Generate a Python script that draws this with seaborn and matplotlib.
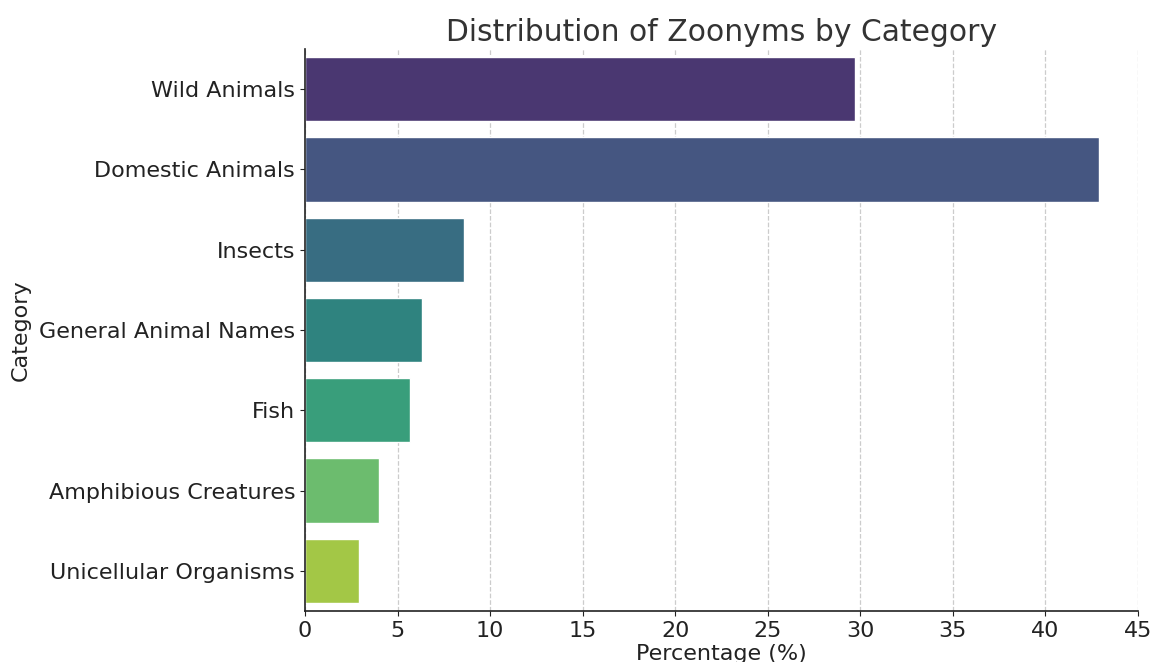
import matplotlib
matplotlib.use("Agg")
import matplotlib.pyplot as plt
import seaborn as sns
import pandas as pd

categories = ["Wild Animals", "Domestic Animals", "Insects", "General Animal Names",
              "Fish", "Amphibious Creatures", "Unicellular Organisms"]
percentages = [29.7, 42.9, 8.6, 6.3, 5.7, 4.0, 2.9]

df = pd.DataFrame({"Category": categories, "Percentage (%)": percentages})

sns.set_style("ticks")
plt.rcParams["font.family"] = ["DejaVu Sans"]

fig = plt.figure(figsize=(11.53, 6.62), dpi=100)
ax = fig.add_axes([0.2645, 0.077, 0.7225, 0.849])

sns.barplot(data=df, x="Percentage (%)", y="Category", hue="Category",
            palette="viridis", legend=False, ax=ax)

ax.set_xlim(0, 45)
ax.set_xticks(range(0, 46, 5))
ax.grid(axis="x", linestyle="--", color="#cccccc", linewidth=0.9)
ax.set_axisbelow(True)
sns.despine(ax=ax)
for s in ["left", "bottom"]:
    ax.spines[s].set_color("#222222")
    ax.spines[s].set_linewidth(1.2)

ax.tick_params(labelsize=16, colors="#222222")
ax.set_xlabel("Percentage (%)", fontsize=16, color="#222222", labelpad=2)
ax.set_ylabel("Category", fontsize=16, color="#222222", labelpad=6)
ax.set_title("Distribution of Zoonyms by Category", fontsize=21.4, color="#333333", pad=6)

fig.savefig("out.png", dpi=100)
